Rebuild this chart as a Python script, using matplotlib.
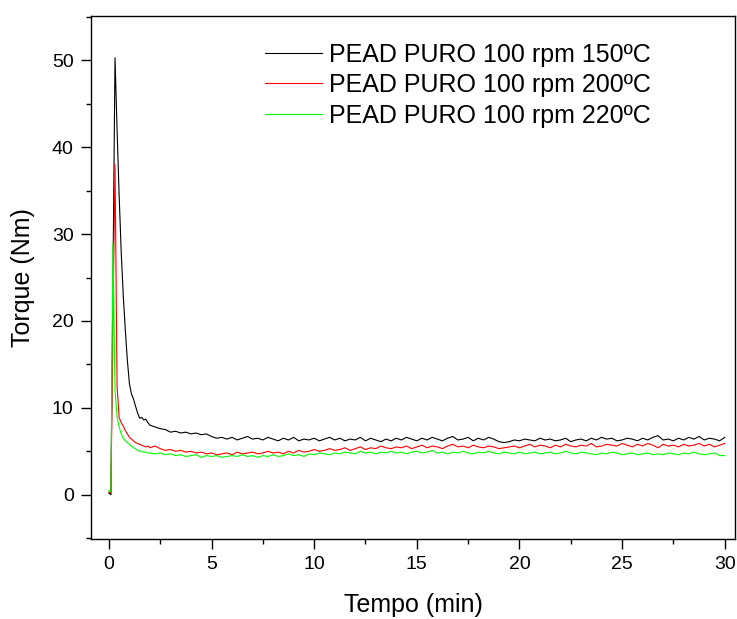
import matplotlib
matplotlib.use("Agg")
import matplotlib.pyplot as plt
import numpy as np
from matplotlib.ticker import MultipleLocator

plt.rcParams['font.family'] = ['Liberation Sans', 'DejaVu Sans']

# time grid (min): dense start, then every 0.25 min
time_head = [0.0, 0.1, 0.2, 0.3, 0.4, 0.5, 0.6, 0.7, 0.8, 0.9,
             1.0, 1.1, 1.2, 1.3, 1.4, 1.5, 1.6, 1.7, 1.8, 1.9]
time_tail = np.arange(2.0, 30.001, 0.25)

# torque (Nm) readings
t150_head = [0.2, 0.0, 25.0, 50.3, 42.0, 34.5, 28.0, 23.0, 19.0, 15.5,
             12.8, 11.6, 11.0, 10.2, 9.4, 8.8, 8.9, 8.6, 8.7, 8.3]
t150_tail = [8.0, 7.8, 7.6, 7.5, 7.2, 7.3, 7.1, 7.2, 7.0, 7.1, 6.9, 7.0,
             6.7, 6.5, 6.6, 6.4, 6.6, 6.3, 6.5, 6.7, 6.4, 6.5, 6.3, 6.6,
             6.4, 6.2, 6.5, 6.3, 6.6, 6.2, 6.4, 6.3, 6.5, 6.2, 6.4, 6.6,
             6.3, 6.5, 6.2, 6.4, 6.3, 6.6, 6.2, 6.5, 6.3, 6.1, 6.4, 6.2,
             6.5, 6.3, 6.6, 6.4, 6.2, 6.5, 6.3, 6.6, 6.4, 6.2, 6.5, 6.7,
             6.3, 6.4, 6.6, 6.2, 6.5, 6.3, 6.6, 6.4, 6.1, 6.0, 6.1, 6.3,
             6.2, 6.4, 6.3, 6.2, 6.5, 6.3, 6.4, 6.2, 6.3, 6.5, 6.1, 6.3,
             6.4, 6.2, 6.5, 6.3, 6.6, 6.4, 6.5, 6.2, 6.3, 6.5, 6.4, 6.2,
             6.5, 6.3, 6.6, 6.8, 6.3, 6.4, 6.2, 6.5, 6.3, 6.6, 6.4, 6.7,
             6.3, 6.5, 6.4, 6.2, 6.6]

t200_head = [0.3, 0.2, 20.0, 38.0, 12.5, 8.9, 8.3, 7.9, 7.4, 7.0,
             6.6, 6.4, 6.2, 6.0, 5.9, 5.8, 5.7, 5.6, 5.5, 5.6]
t200_tail = [5.4, 5.6, 5.3, 5.1, 5.2, 5.0, 5.1, 4.9, 5.0, 4.8, 4.9, 4.7,
             4.8, 4.6, 4.7, 4.8, 4.6, 4.9, 4.7, 4.8, 4.9, 4.7, 4.8, 5.0,
             4.8, 4.9, 4.7, 5.0, 4.8, 5.1, 4.9, 5.0, 5.2, 5.0, 5.1, 5.3,
             5.1, 5.2, 5.4, 5.1, 5.3, 5.5, 5.2, 5.4, 5.3, 5.6, 5.4, 5.3,
             5.5, 5.4, 5.6, 5.3, 5.5, 5.7, 5.4, 5.6, 5.5, 5.3, 5.6, 5.8,
             5.5, 5.6, 5.4, 5.7, 5.5, 5.4, 5.6, 5.5, 5.3, 5.4, 5.5, 5.6,
             5.4, 5.6, 5.8, 5.5, 5.7, 5.6, 5.4, 5.7, 5.5, 5.8, 5.6, 5.5,
             5.7, 5.6, 5.9, 5.5, 5.6, 5.8, 5.7, 5.6, 5.9, 5.7, 5.5, 5.8,
             5.6, 5.9, 5.7, 5.4, 5.8, 5.6, 5.7, 5.5, 5.8, 5.6, 5.7, 5.9,
             5.6, 5.8, 5.5, 5.7, 5.9]

t220_head = [0.5, 0.3, 29.0, 12.0, 9.0, 7.8, 7.0, 6.5, 6.2, 6.0,
             5.8, 5.6, 5.4, 5.3, 5.1, 5.0, 5.0, 4.9, 4.9, 4.8]
t220_tail = [4.8, 4.7, 4.8, 4.6, 4.7, 4.5, 4.6, 4.4, 4.5, 4.6, 4.3, 4.5,
             4.4, 4.5, 4.3, 4.4, 4.5, 4.4, 4.6, 4.4, 4.5, 4.3, 4.5, 4.4,
             4.6, 4.4, 4.5, 4.7, 4.5, 4.6, 4.4, 4.7, 4.6, 4.8, 4.7, 4.6,
             4.8, 4.7, 4.9, 4.8, 4.7, 5.0, 4.8, 4.9, 4.7, 4.9, 4.8, 5.0,
             4.8, 4.9, 4.7, 4.9, 5.0, 4.8, 4.9, 5.1, 4.8, 4.9, 4.7, 4.9,
             4.8, 5.0, 4.8, 4.7, 4.9, 4.8, 5.0, 4.8, 4.7, 4.9, 4.8, 4.7,
             4.9, 4.7, 4.8, 4.9, 4.7, 4.8, 4.9, 4.7, 4.8, 5.0, 4.8, 4.7,
             4.9, 4.8, 4.7, 4.6, 4.8, 4.7, 4.9, 4.8, 4.6, 4.7, 4.8, 4.6,
             4.7, 4.8, 4.6, 4.7, 4.6, 4.8, 4.7, 4.6, 4.8, 4.7, 4.9, 4.7,
             4.6, 4.7, 4.8, 4.5, 4.5]

labels = ['PEAD PURO 100 rpm 150ºC',
          'PEAD PURO 100 rpm 200ºC',
          'PEAD PURO 100 rpm 220ºC']
colors = ['#000000', '#ff0000', '#00ff00']

time = np.concatenate([time_head, time_tail])
series = [t150_head + t150_tail, t200_head + t200_tail, t220_head + t220_tail]

fig = plt.figure(figsize=(7.37, 6.19), dpi=100)
ax = fig.add_axes([91 / 737, 1 - 539 / 619, 644 / 737, 523 / 619])

for vals, lab, col in zip(series, labels, colors):
    ax.plot(time, vals, color=col, lw=0.8, label=lab)

ax.set_xlim(-0.87, 30.5)
ax.set_ylim(-5.1, 55.1)
ax.xaxis.set_major_locator(MultipleLocator(5))
ax.xaxis.set_minor_locator(MultipleLocator(2.5))
ax.yaxis.set_major_locator(MultipleLocator(10))
ax.yaxis.set_minor_locator(MultipleLocator(5))
ax.tick_params(which='major', direction='out', length=7.5, width=1.0,
               labelsize=14, pad=5)
ax.tick_params(which='minor', direction='out', length=3.8, width=1.0)
for sp in ax.spines.values():
    sp.set_linewidth(1.0)

ax.set_xlabel('Tempo (min)', fontsize=18, labelpad=14)
ax.set_ylabel('Torque (Nm)', fontsize=18, labelpad=12)

ax.legend(loc='upper left', bbox_to_anchor=(0.270, 0.949), frameon=False,
          fontsize=18, handlelength=2.3, handletextpad=0.28,
          labelspacing=0.26, borderpad=0, borderaxespad=0)

fig.savefig('out.png', dpi=100)
